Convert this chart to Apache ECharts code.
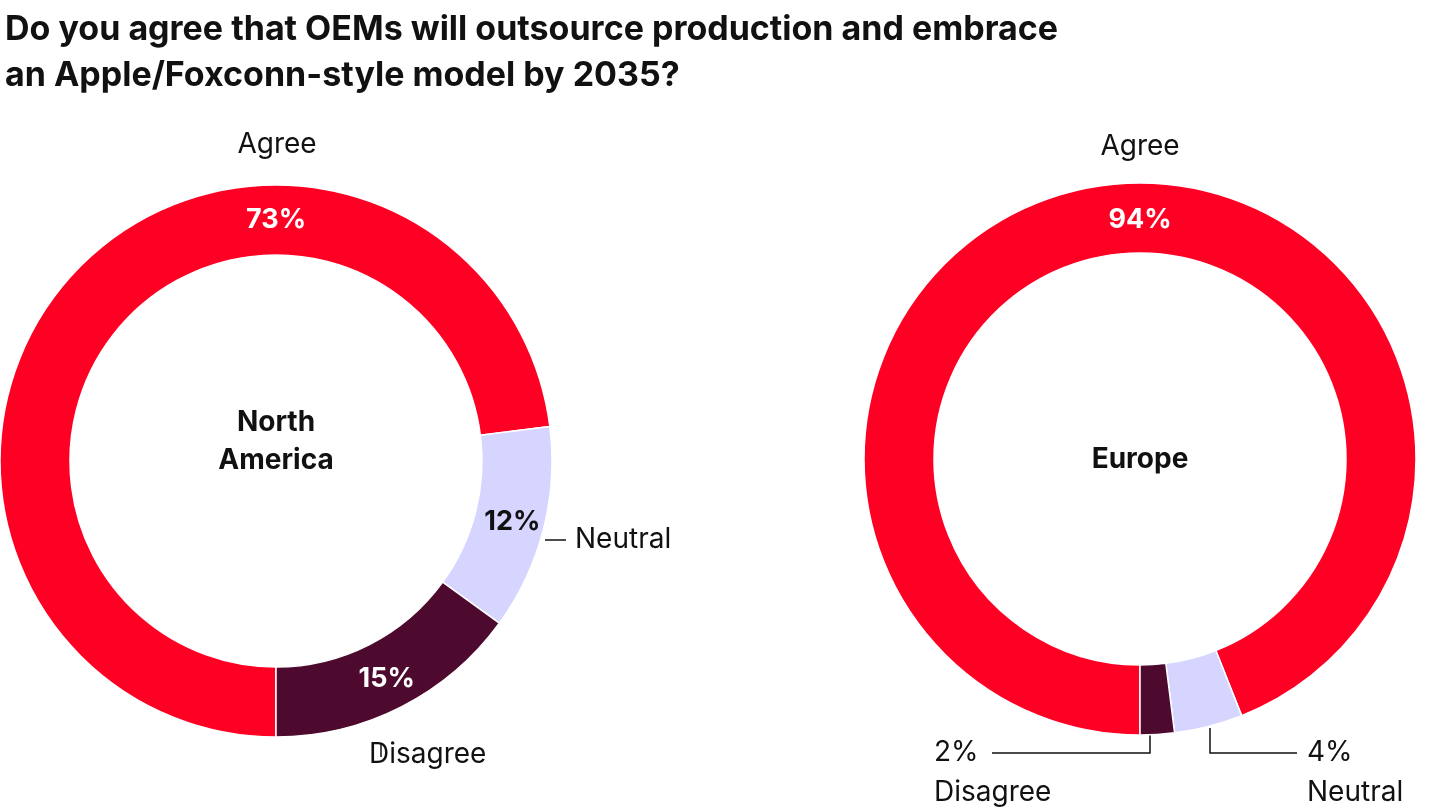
<!DOCTYPE html>
<html>
<head>
<meta charset="utf-8">
<script src="https://cdn.jsdelivr.net/npm/echarts@6/dist/echarts.min.js"></script>
<style>
  html, body { margin: 0; padding: 0; background: #fff; }
  #chart { width: 1440px; height: 810px; }
</style>
</head>
<body>
<div id="chart"></div>
<script>
const categories = ['Agree', 'Neutral', 'Disagree'];
const northAmerica = [73, 12, 15];
const europe = [94, 4, 2];
const colors = ['#ff0025', '#d5d5ff', '#4e0a2e'];
const labelColors = ['#fff', '#111', '#fff'];

const FONT = 'Inter, Lato, sans-serif';

function donut(name, values, center, showSmall) {
  return {
    name: name,
    type: 'pie',
    center: center,
    radius: [206, 276],
    startAngle: 270,
    clockwise: true,
    silent: true,
    animation: false,
    itemStyle: { borderColor: '#fff', borderWidth: 1.5 },
    labelLine: { show: false },
    data: categories.map((c, i) => ({
      name: c,
      value: values[i],
      itemStyle: { color: colors[i] },
      label: {
        show: i === 0 || showSmall,
        position: 'inside',
        formatter: '{c}%',
        color: labelColors[i],
        fontFamily: FONT,
        fontWeight: 'bold',
        fontSize: 27
      }
    })),
    labelLayout: params => {
      // Agree 的百分比放在圆环顶部
      if (params.dataIndex === 0) {
        return { x: center[0], y: 220, align: 'center', verticalAlign: 'middle' };
      }
      return {};
    }
  };
}

function txt(x, y, s, opts = {}) {
  return {
    type: 'text', x: x, y: y, silent: true,
    style: Object.assign({
      text: s, fill: '#111', font: '400 28px ' + FONT,
      align: 'left', verticalAlign: 'middle'
    }, opts)
  };
}

function line(points) {
  return {
    type: 'polyline', silent: true,
    shape: { points: points },
    style: { stroke: '#111', lineWidth: 1.5, fill: null }
  };
}

const chart = echarts.init(document.getElementById('chart'));
chart.setOption({
  backgroundColor: '#fff',
  title: {
    text: 'Do you agree that OEMs will outsource production and embrace\nan Apple/Foxconn-style model by 2035?',
    left: 0, top: 2,
    textStyle: { fontFamily: FONT, fontWeight: 'bold', fontSize: 34, lineHeight: 46, color: '#111' }
  },
  series: [
    donut('North America', northAmerica, [276, 461], true),
    donut('Europe', europe, [1140, 459], false)
  ],
  graphic: [
    txt(276, 442, 'North\nAmerica', { align: 'center', font: 'bold 28px ' + FONT, lineHeight: 38 }),
    txt(1140, 460, 'Europe', { align: 'center', font: 'bold 28px ' + FONT }),
    txt(277, 145, 'Agree', { align: 'center' }),
    txt(575, 540, 'Neutral'),
    txt(369, 755, 'Disagree'),
    line([[545, 540], [566, 540]]),
    line([[381, 743], [381, 757]]),
    txt(1140, 147, 'Agree', { align: 'center' }),
    txt(934, 753, '2%'),
    txt(934, 793, 'Disagree'),
    txt(1307, 753, '4%'),
    txt(1307, 793, 'Neutral'),
    line([[1150, 730], [1150, 753], [992, 753]]),
    line([[1210, 728], [1210, 753], [1297, 753]])
  ]
});
</script>
</body>
</html>
